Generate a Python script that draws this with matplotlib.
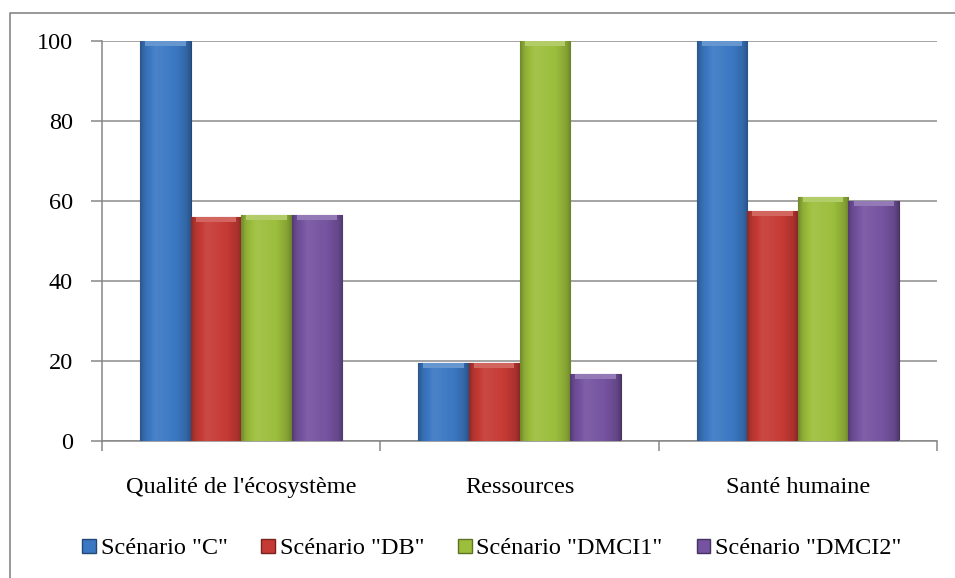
import numpy as np
import matplotlib.pyplot as plt
from matplotlib.patches import Rectangle, Patch
from matplotlib.lines import Line2D
from matplotlib.colors import to_rgb

plt.rcParams['font.family'] = ['Liberation Serif', 'DejaVu Serif']

categories = ["Qualité de l'écosystème", "Ressources", "Santé humaine"]
series_names = ['Scénario "C"', 'Scénario "DB"', 'Scénario "DMCI1"', 'Scénario "DMCI2"']
scenario_c = [100, 19.5, 100]
scenario_db = [56, 19.5, 57.5]
scenario_dmci1 = [56.5, 100, 61]
scenario_dmci2 = [56.5, 16.7, 60]
colors = ['#3b78c3', '#c63a35', '#9cbe3c', '#7553a0']

series = [scenario_c, scenario_db, scenario_dmci1, scenario_dmci2]
FS = 17.5


def shade(color, f):
    c = np.array(to_rgb(color))
    if f >= 1:
        return tuple(c + (1 - c) * (f - 1))
    return tuple(c * f)


def gradient_fill(ax, bar, color):
    """Paint a horizontal 'glossy' gradient inside a bar, clipped to it."""
    x, y = bar.get_x(), bar.get_y()
    w, h = bar.get_width(), bar.get_height()
    t = np.linspace(0, 1, 64)
    prof = np.interp(t, [0, 0.08, 0.3, 0.7, 0.92, 1.0],
                     [0.72, 0.9, 1.08, 1.0, 0.85, 0.7])
    img = np.array([[shade(color, f) for f in prof]])
    im = ax.imshow(img, extent=[x, x + w, y, y + h], aspect='auto',
                   interpolation='bicubic', zorder=3)
    im.set_clip_path(bar)
    # lighter cap on top of the bar
    cap_h = 1.2
    top = Rectangle((x + w * 0.1, y + h - cap_h), w * 0.8, cap_h,
                    facecolor=shade(color, 1.22), edgecolor='none', zorder=4)
    ax.add_patch(top)


fig = plt.figure(figsize=(9.55, 5.78), dpi=100)
ax = fig.add_axes([102 / 955, 137 / 578, 835 / 955, 400 / 578])

x = np.arange(len(categories))
width = 1 / 5.5
for i, (vals, col) in enumerate(zip(series, colors)):
    offs = (i - 1.5) * width
    bars = ax.bar(x + offs, vals, width, color=col,
                  edgecolor=shade(col, 0.6), linewidth=0.8, zorder=2)
    for b in bars:
        gradient_fill(ax, b, col)

ax.set_xlim(-0.5, 2.5)
ax.set_ylim(0, 100)
ax.set_yticks(np.arange(0, 101, 20))
ax.yaxis.grid(True, color='#8c8c8c', linewidth=1.1)
ax.set_axisbelow(True)

ax.set_xticks([-0.5, 0.5, 1.5, 2.5])
ax.set_xticklabels([])
ax.set_xticks(x, minor=True)
ax.set_xticklabels(categories, minor=True)
ax.tick_params(axis='x', which='major', length=7, color='#868686', width=1.1)
ax.tick_params(axis='x', which='minor', length=0, pad=26, labelsize=FS)
ax.tick_params(axis='y', length=8, color='#868686', width=1.1, pad=13,
               labelsize=FS)

for s in ['top', 'right']:
    ax.spines[s].set_visible(False)
for s in ['left', 'bottom']:
    ax.spines[s].set_color('#868686')
    ax.spines[s].set_linewidth(1.1)

handles = [Patch(facecolor=c, edgecolor=shade(c, 0.6)) for c in colors]
fig.legend(handles, series_names, loc='center', bbox_to_anchor=(0.515, 1 - 549 / 578),
           ncol=4, frameon=False, fontsize=FS, handlelength=0.55, handleheight=0.55,
           handletextpad=0.2, columnspacing=1.4)

# chart area frame (only left and top edges fall inside the image)
fx, fy = 10 / 955, 1 - 13 / 578
fig.add_artist(Line2D([fx, fx, 1.0], [0.0, fy, fy], transform=fig.transFigure,
                      color='#868686', linewidth=1.2))

fig.savefig('out.png', dpi=100)
